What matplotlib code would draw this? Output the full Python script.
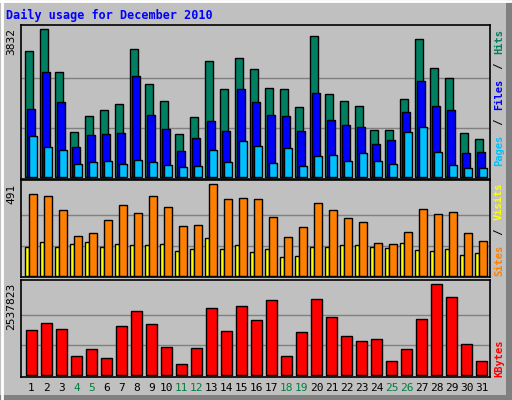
import matplotlib
matplotlib.use("Agg")
import matplotlib.pyplot as plt
from matplotlib.patches import Rectangle
from matplotlib.lines import Line2D

days = list(range(1, 32))
weekends = [4, 5, 11, 12, 18, 19, 25, 26]

hits = [3260, 3832, 2714, 1153, 1569, 1725, 1881, 3312, 2401, 1959, 1101, 1543, 3000, 2271, 3078, 2792,
        2297, 2271, 1803, 3650, 2141, 1959, 1829, 1205, 1205, 2011, 3572, 2818, 2558, 1127, 971]
files = [1751, 2714, 1933, 763, 1075, 1101, 1127, 2610, 1595, 1231, 659, 997, 1439, 1179, 2271, 1933,
         1595, 1569, 1179, 2167, 1465, 1335, 1283, 841, 945, 1673, 2479, 1829, 1725, 607, 633]
pages = [1049, 763, 685, 321, 373, 399, 321, 425, 373, 295, 243, 269, 685, 373, 919, 789,
         347, 737, 269, 529, 555, 399, 607, 399, 321, 1153, 1283, 633, 295, 217, 217]
visits = [438, 427, 352, 213, 229, 299, 379, 336, 427, 368, 267, 272, 491, 411, 416, 411,
          315, 208, 262, 390, 352, 310, 288, 176, 171, 235, 358, 331, 342, 229, 187]
sites = [155, 181, 155, 171, 181, 155, 171, 165, 165, 171, 133, 144, 203, 144, 165, 128,
         144, 101, 107, 155, 155, 165, 165, 155, 149, 176, 139, 133, 144, 112, 123]
kbytes = [1254960, 1450176, 1282848, 529872, 725088, 474096, 1366512, 1784832, 1422288, 780864,
          306768, 752976, 1868496, 1227072, 1924272, 1533840, 2091600, 529872, 1199184, 2119488,
          1617504, 1087632, 948192, 1003968, 390432, 725088, 1561728, 2537823, 2175264, 864528, 390432]

W, H = 512, 400
BG = "#C0C0C0"
C_HITS, C_FILES, C_PAGES = "#008060", "#0000FF", "#00C0FF"
C_SITES, C_VISITS, C_KB = "#FFFF00", "#FF8000", "#FF0000"
MONO = "DejaVu Sans Mono"

fig = plt.figure(figsize=(W / 100, H / 100), dpi=100, facecolor=BG)

# 3D frame
fig.add_artist(Line2D([0, 1], [1 - 0.5 / H, 1 - 0.5 / H], color="white", lw=2))
fig.add_artist(Line2D([1.5 / W, 1.5 / W], [0, 1], color="white", lw=2))
fig.add_artist(Rectangle((1 - 6 / W, 0), 6 / W, 1, color="#808080", lw=0))
fig.add_artist(Rectangle((0, 0), 1, 5 / H, color="#808080", lw=0))


def panel(top, bottom):
    return fig.add_axes([20.7 / W, 1 - bottom / H, (490 - 20.7) / W, (bottom - top) / H])


def style(ax, vmax, lo, hi):
    ax.set_facecolor(BG)
    ax.set_xlim(20.7, 490)
    ax.set_ylim(lo, hi)
    ax.set_xticks([])
    ax.set_yticks([])
    for y in (vmax / 3, 2 * vmax / 3):
        ax.axhline(y, color="#808080", lw=1, zorder=0)
    for s in ax.spines.values():
        s.set_color("black")
        s.set_linewidth(1.2)


def xs(offset):
    return [25.3 + 15 * (d - 1) + offset for d in days]


bar_kw = dict(align="edge", edgecolor="black", linewidth=1, zorder=2)

ax1 = panel(25, 179)
top = max(hits)
style(ax1, top, -0.016 * top, 1.03 * top)
ax1.bar(xs(0), hits, width=7.3, color=C_HITS, **bar_kw)
ax1.bar(xs(2), files, width=7.3, color=C_FILES, **bar_kw)
ax1.bar(xs(4), pages, width=7.3, color=C_PAGES, **bar_kw)

ax2 = panel(180, 277)
top = max(visits)
style(ax2, top, -0.008 * top, 1.047 * top)
ax2.bar(xs(0), sites, width=4.0, color=C_SITES, **bar_kw)
ax2.bar(xs(4), visits, width=7.4, color=C_VISITS, **bar_kw)

ax3 = panel(280, 377)
top = max(kbytes)
style(ax3, top, -0.018 * top, 1.047 * top)
ax3.bar(xs(1), kbytes, width=10.4, color=C_KB, **bar_kw)

fig.text(6 / W, 1 - 15 / H, "Daily usage for December 2010", color="#0000FF",
         fontsize=8.5, fontweight="bold", family=MONO, va="center")

for label, ytop in ((str(max(hits)), 28), (str(max(visits)), 184), (str(max(kbytes)), 283)):
    fig.text(11 / W, 1 - ytop / H, label, rotation=90, fontsize=8, family=MONO,
             va="top", ha="center", color="black")

def right_label(parts, ybottom):
    y = 1 - ybottom / H
    for txt, col in parts:
        t = fig.text(499 / W, y, txt, rotation=90, fontsize=7.5, family=MONO,
                     fontweight="bold", va="bottom", ha="center", color=col)
        y += len(txt) * 7.0 / H

right_label([("Pages", C_PAGES), (" / ", "black"), ("Files", C_FILES), (" / ", "black"), ("Hits", C_HITS)], 166)
right_label([("Sites", C_VISITS), (" / ", "black"), ("Visits", C_SITES)], 276)
right_label([("KBytes", C_KB)], 377)

for d in days:
    fig.text((31.5 + 15 * (d - 1)) / W, 1 - 388 / H, str(d), ha="center", va="center",
             fontsize=8, family=MONO, color="#008040" if d in weekends else "black")

fig.savefig("out.png", dpi=100, facecolor=BG)
